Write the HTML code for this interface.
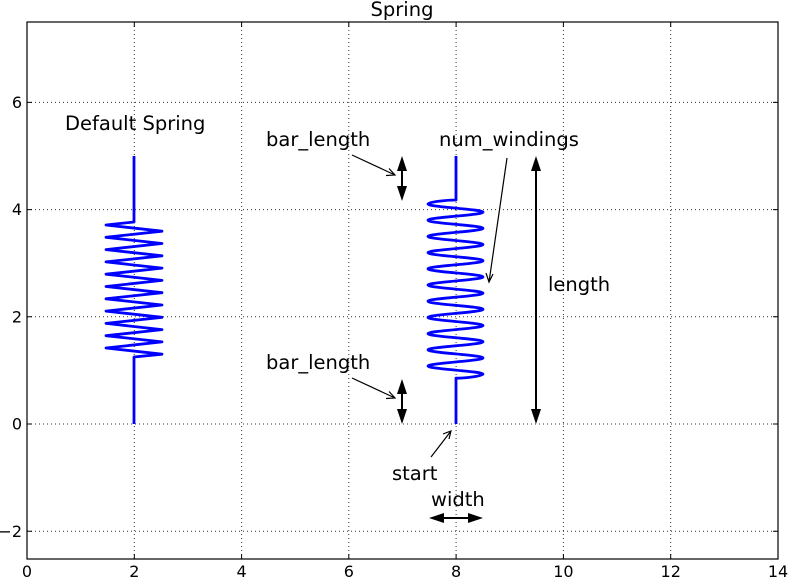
<!DOCTYPE html>
<html><head><meta charset="utf-8"><style>
html,body{margin:0;padding:0;background:#fff;}
svg{display:block;font-family:"DejaVu Sans","Liberation Sans",sans-serif;}
</style></head><body>
<svg width="788" height="577" viewBox="0 0 788 577" xmlns="http://www.w3.org/2000/svg">
<rect width="788" height="577" fill="#fff"/>
<g stroke="#000" stroke-width="1" stroke-dasharray="1,3" opacity="0.8">
<line x1="134.3" y1="22" x2="134.3" y2="559"/>
<line x1="241.6" y1="22" x2="241.6" y2="559"/>
<line x1="348.8" y1="22" x2="348.8" y2="559"/>
<line x1="456.1" y1="22" x2="456.1" y2="559"/>
<line x1="563.4" y1="22" x2="563.4" y2="559"/>
<line x1="670.7" y1="22" x2="670.7" y2="559"/>
<line x1="27" y1="102.4" x2="778" y2="102.4"/>
<line x1="27" y1="209.6" x2="778" y2="209.6"/>
<line x1="27" y1="316.8" x2="778" y2="316.8"/>
<line x1="27" y1="424" x2="778" y2="424"/>
<line x1="27" y1="531.2" x2="778" y2="531.2"/>
</g>
<g stroke="#000" stroke-width="1">
<path d="M134.3,559v-5M241.6,559v-5M348.8,559v-5M456.1,559v-5M563.4,559v-5M670.7,559v-5M134.3,22v5M241.6,22v5M348.8,22v5M456.1,22v5M563.4,22v5M670.7,22v5"/>
<path d="M27,102.4h5M27,209.6h5M27,316.8h5M27,424h5M27,531.2h5M778,102.4h-5M778,209.6h-5M778,316.8h-5M778,424h-5M778,531.2h-5"/>
</g>
<rect x="27" y="22" width="751" height="537" fill="none" stroke="#000" stroke-width="1.2"/>
<g font-size="16" fill="#000" text-anchor="middle">
<text x="27" y="577">0</text><text x="134.3" y="577">2</text><text x="241.6" y="577">4</text>
<text x="348.8" y="577">6</text><text x="456.1" y="577">8</text><text x="563.4" y="577">10</text>
<text x="670.7" y="577">12</text><text x="778" y="577">14</text>
</g>
<g font-size="16" fill="#000" text-anchor="end">
<text x="22" y="108">6</text><text x="22" y="215.2">4</text><text x="22" y="322.4">2</text>
<text x="22" y="429.6">0</text><text x="22" y="536.8">−2</text>
</g>
<text x="402" y="16" font-size="19.5" text-anchor="middle">Spring</text>
<g fill="none" stroke="#0000ff" stroke-width="2.8" stroke-linejoin="round">
<polyline points="134,156 134,222 106,225 162,231.2 106,237.3 162,243.5 106,249.6 162,255.8 106,261.9 162,268.1 106,274.2 162,280.4 106,286.5 162,292.7 106,298.8 162,305 106,311.1 162,317.3 106,323.4 162,329.6 106,335.7 162,341.9 106,348 162,354.2 134,357 134,424"/>
<path d="M456,156 L456,200 C447,200 428,202 428,204.05 C428,207 483,209.2 483,212.15 S428,217.3 428,220.25 S483,225.4 483,228.35 S428,233.5 428,236.45 S483,241.6 483,244.55 S428,249.7 428,252.65 S483,257.8 483,260.75 S428,265.9 428,268.85 S483,274 483,276.95 S428,282.1 428,285.05 S483,290.2 483,293.15 S428,298.3 428,301.25 S483,306.4 483,309.35 S428,314.5 428,317.45 S483,322.6 483,325.55 S428,330.7 428,333.65 S483,338.8 483,341.75 S428,346.9 428,349.85 S483,355 483,357.95 S428,363.1 428,366.05 S483,371.2 483,374.15 C483,376 465,378.2 456,378.2 L456,424"/>
</g>
<g font-size="19.5" fill="#000">
<text x="65" y="130">Default Spring</text>
<text x="266" y="146">bar_length</text>
<text x="439" y="146">num_windings</text>
<text x="266" y="369">bar_length</text>
<text x="548" y="291">length</text>
<text x="392" y="480">start</text>
<text x="431" y="506">width</text>
</g>
<g stroke="#000" stroke-width="2">
<line x1="402" y1="165" x2="402" y2="192"/>
<line x1="402" y1="388" x2="402" y2="415"/>
<line x1="536" y1="165" x2="536" y2="415"/>
<line x1="440" y1="518" x2="472" y2="518"/>
</g>
<g fill="#000">
<polygon points="402,156 397,171 407,171"/><polygon points="402,201 397,186 407,186"/>
<polygon points="402,379 397,394 407,394"/><polygon points="402,424 397,409 407,409"/>
<polygon points="536,156 531,171 541,171"/><polygon points="536,424 531,409 541,409"/>
<polygon points="429,518 444,513 444,523"/><polygon points="483,518 468,513 468,523"/>
</g>
<g stroke="#000" stroke-width="1.2" fill="none">
<path d="M352,155 L395,175 M386,175.5 L395,175 L389,168.5"/>
<path d="M352,378 L395,398 M386,398.5 L395,398 L389,391.5"/>
<path d="M507,158 L489,282 M486,273 L489,282 L493,274"/>
<path d="M431,457 L451,431 M443,434 L451,431 L449,439"/>
</g>
</svg>
</body></html>
